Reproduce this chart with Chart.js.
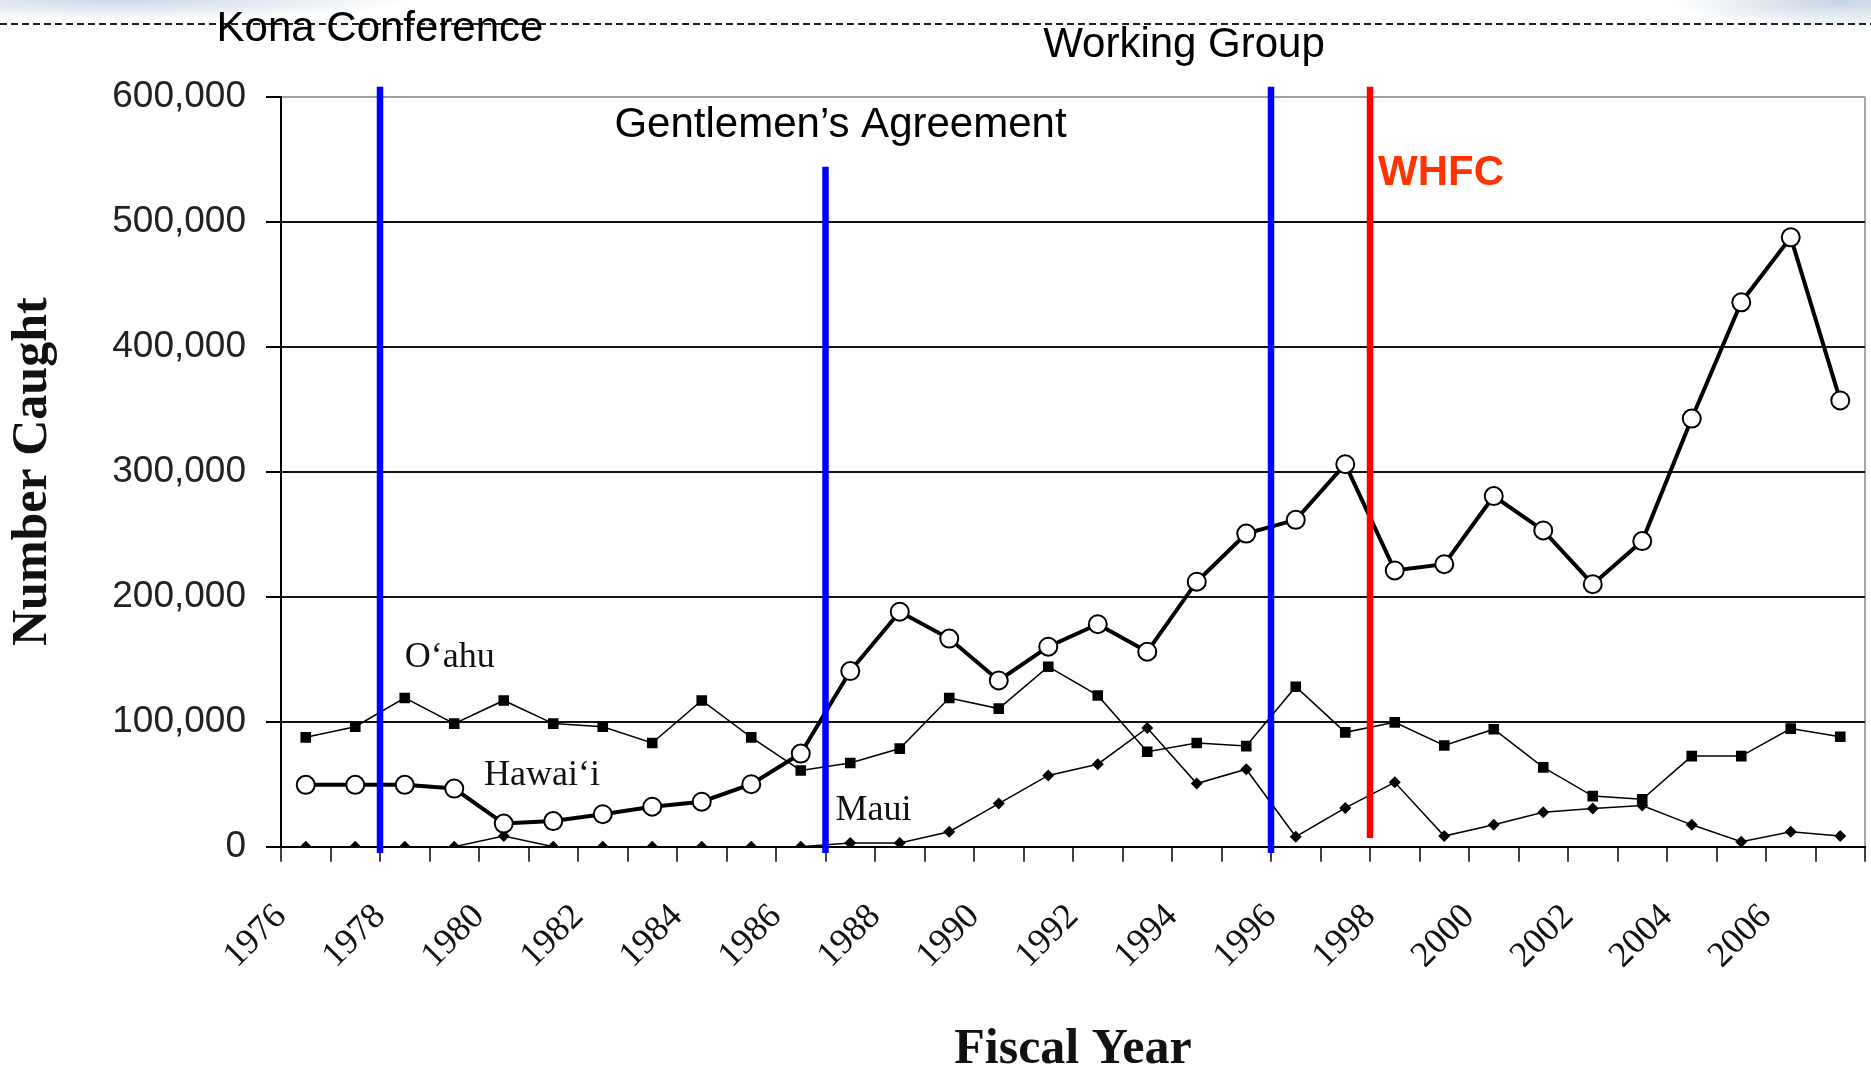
<!DOCTYPE html>
<html>
<head>
<meta charset="utf-8">
<title>Number Caught by Fiscal Year</title>
<script src="https://cdn.jsdelivr.net/npm/chart.js@4.4.1/dist/chart.umd.min.js"></script>
<style>
  html, body { margin: 0; padding: 0; background: #fff; }
  #wrap {
    position: relative; width: 1871px; height: 1071px; overflow: hidden;
    background:
      radial-gradient(ellipse 300px 20px at 120px 0px, rgba(160,182,210,0.55), rgba(255,255,255,0)),
      radial-gradient(ellipse 170px 26px at 1840px 2px, rgba(160,182,210,0.6), rgba(255,255,255,0)),
      #fff;
  }
</style>
</head>
<body>
<div id="wrap"><canvas id="myChart" width="1871" height="1071"></canvas></div>
<script>
// fiscal years (one point per year)
const years = [1976, 1977, 1978, 1979, 1980, 1981, 1982, 1983, 1984, 1985, 1986,
  1987, 1988, 1989, 1990, 1991, 1992, 1993, 1994, 1995, 1996, 1997,
  1998, 1999, 2000, 2001, 2002, 2003, 2004, 2005, 2006, 2007];

// number caught per island
const hawaii = [49500, 49500, 49500, 46500, 18500, 20500, 26000, 32000, 36000, 50000, 74500,
  140500, 188000, 166500, 133000, 160000, 178000, 156000, 212000, 250500, 261500, 306000,
  221000, 226000, 280500, 253000, 210000, 244500, 342500, 435500, 487500, 357000];
const oahu = [87500, 96000, 119000, 98500, 117000, 98500, 96000, 83000, 117000, 87500, 61000,
  67000, 78500, 119000, 110500, 144000, 121000, 76000, 83000, 80500, 128000, 91500,
  99500, 81000, 94000, 63500, 40500, 38000, 72500, 72500, 94500, 88000];
const maui = [0, 0, 0, 0, 8500, 0, 0, 0, 0, 0, 0,
  3000, 3000, 12000, 34500, 57000, 66000, 95000, 50500, 62000, 8000, 31000,
  51500, 8500, 17500, 27500, 30500, 33000, 17500, 4000, 12000, 8500];

const seriesNames = ['Hawai‘i', 'O‘ahu', 'Maui'];

// axis ticks
const yTicks = [0, 100000, 200000, 300000, 400000, 500000, 600000];
const xLabelYears = [1976, 1978, 1980, 1982, 1984, 1986, 1988, 1990, 1992, 1994, 1996,
  1998, 2000, 2002, 2004, 2006];

// management events
const eventNames = ['Kona Conference', 'Gentlemen’s Agreement', 'Working Group', 'WHFC'];
const eventYears = [1978, 1987, 1996, 1998];

// look of the event lines and texts
const eventStyle = [
  { color: '#0000ff', top: 608000, bottom: -5000, textColor: '#000', bold: false, align: 'center', dx: 0, baseline: 41 },
  { color: '#0000ff', top: 544000, bottom: -5000, textColor: '#000', bold: false, align: 'center', dx: 15, baseline: 137 },
  { color: '#0000ff', top: 608000, bottom: -5000, textColor: '#000', bold: false, align: 'center', dx: -87, baseline: 57 },
  { color: '#ff0000', top: 608000, bottom: 7000, textColor: '#ff3300', bold: true, align: 'left', dx: 8, baseline: 185 }
];

// where the island names sit (year, value of the baseline)
const nameSpots = { 'Hawai‘i': [1980.1, 49300], 'O‘ahu': [1978.5, 143600], 'Maui': [1987.2, 21300] };

const midYear = arr => arr.map((v, i) => ({ x: years[i] + 0.5, y: v }));

const overlay = {
  id: 'overlay',
  beforeDraw(chart) {
    const ctx = chart.ctx;
    ctx.save();
    ctx.strokeStyle = '#222';
    ctx.lineWidth = 2;
    ctx.setLineDash([7, 4]);
    ctx.beginPath();
    ctx.moveTo(0, 24);
    ctx.lineTo(chart.width, 24);
    ctx.stroke();
    ctx.restore();
  },
  afterDatasetsDraw(chart) {
    const ctx = chart.ctx;
    const x = chart.scales.x, y = chart.scales.y;
    ctx.save();

    // island names
    ctx.fillStyle = '#111';
    ctx.font = '36px "Liberation Serif", "Times New Roman", serif';
    ctx.textAlign = 'left';
    ctx.textBaseline = 'alphabetic';
    seriesNames.forEach(name => {
      const p = nameSpots[name];
      ctx.fillText(name, x.getPixelForValue(p[0]), y.getPixelForValue(p[1]));
    });

    // event lines + labels
    eventYears.forEach((yr, i) => {
      const s = eventStyle[i];
      const px = x.getPixelForValue(yr);
      ctx.strokeStyle = s.color;
      ctx.lineWidth = 6.5;
      ctx.beginPath();
      ctx.moveTo(px, y.getPixelForValue(s.top));
      ctx.lineTo(px, y.getPixelForValue(s.bottom));
      ctx.stroke();

      ctx.fillStyle = s.textColor;
      ctx.font = (s.bold ? 'bold ' : '') + '42px "Liberation Sans", Arial, sans-serif';
      ctx.textAlign = s.align;
      ctx.fillText(eventNames[i], px + s.dx, s.baseline);
    });
    ctx.restore();
  }
};

const ctx = document.getElementById('myChart').getContext('2d');
const chart = new Chart(ctx, {
  type: 'line',
  data: {
    datasets: [
      {
        label: seriesNames[0],
        data: midYear(hawaii),
        borderColor: '#000',
        borderWidth: 4,
        pointStyle: 'circle',
        pointRadius: 9,
        pointBackgroundColor: '#fff',
        pointBorderColor: '#000',
        pointBorderWidth: 2,
        tension: 0
      },
      {
        label: seriesNames[1],
        data: midYear(oahu),
        borderColor: '#000',
        borderWidth: 1.5,
        pointStyle: 'rect',
        pointRadius: 7.5,
        pointBackgroundColor: '#000',
        pointBorderColor: '#000',
        pointBorderWidth: 0,
        tension: 0
      },
      {
        label: seriesNames[2],
        data: midYear(maui),
        borderColor: '#000',
        borderWidth: 1.5,
        pointStyle: 'rectRot',
        pointRadius: 6,
        pointBackgroundColor: '#000',
        pointBorderColor: '#000',
        pointBorderWidth: 0,
        tension: 0
      }
    ]
  },
  options: {
    responsive: false,
    animation: false,
    devicePixelRatio: 1,
    layout: { autoPadding: false, padding: { top: 96.7, right: 6, left: 0, bottom: 0 } },
    plugins: { legend: { display: false }, tooltip: { enabled: false } },
    scales: {
      x: {
        type: 'linear',
        min: 1976,
        max: 2008,
        afterFit: s => { s.height = 224.3; s.paddingLeft = 0; s.paddingRight = 0; },
        border: { color: '#000', width: 2 },
        grid: {
          drawOnChartArea: true,
          color: c => (c.tick && c.tick.value === 2008) ? '#a8a8a8' : 'rgba(0,0,0,0)',
          lineWidth: 2,
          tickColor: '#000',
          tickWidth: 1.5,
          tickLength: 15
        },
        ticks: {
          stepSize: 1,
          autoSkip: false,
          maxRotation: 45,
          minRotation: 45,
          padding: 34,
          color: '#111',
          font: { family: '"Liberation Serif", "Times New Roman", serif', size: 36 },
          callback: v => xLabelYears.includes(v) ? String(v) : ''
        },
        title: {
          display: true,
          text: 'Fiscal Year',
          color: '#111',
          font: { family: '"Liberation Serif", "Times New Roman", serif', size: 50, weight: 'bold', lineHeight: 1 },
          padding: { top: 0, bottom: -4 }
        }
      },
      y: {
        min: 0,
        max: 600000,
        afterFit: s => { s.width = 281; },
        afterBuildTicks: s => { s.ticks = yTicks.map(v => ({ value: v })); },
        border: { color: '#000', width: 2 },
        grid: {
          color: c => (c.tick && c.tick.value === 600000) ? '#a0a0a0' : '#111',
          lineWidth: 2,
          tickColor: '#000',
          tickLength: 15
        },
        ticks: {
          padding: 20,
          color: '#222',
          font: { family: '"Liberation Sans", Arial, sans-serif', size: 37 },
          callback: v => v.toLocaleString('en-US')
        },
        title: {
          display: true,
          text: 'Number Caught',
          color: '#111',
          font: { family: '"Liberation Serif", "Times New Roman", serif', size: 50, weight: 'bold' },
          padding: { top: 3, bottom: 0 }
        }
      }
    }
  },
  plugins: [overlay]
});
</script>
</body>
</html>
